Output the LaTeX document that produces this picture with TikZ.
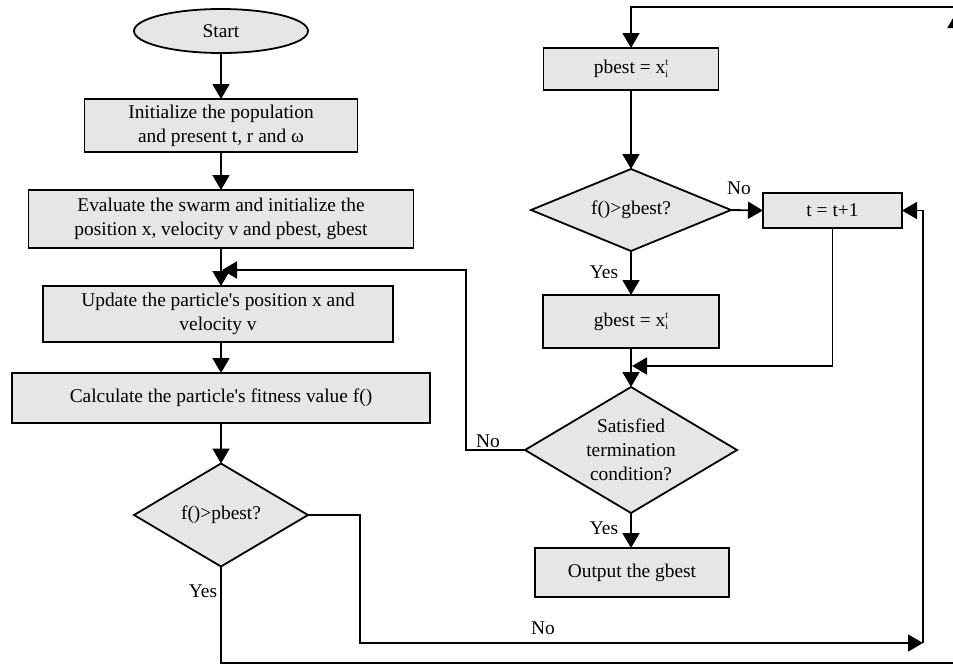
\documentclass[tikz,border=0pt]{standalone}
\usepackage{fontspec}
\setmainfont{Liberation Serif}[Ligatures=TeXOff]
\usetikzlibrary{shapes.geometric,arrows.meta}
\definecolor{boxgray}{RGB}{230,230,230}
\newcommand{\xit}{x\rlap{\raisebox{-1.6pt}{\fontsize{5}{5}\selectfont i}}\raisebox{4.2pt}{\fontsize{5}{5}\selectfont t}}
\begin{document}
\begin{tikzpicture}[x=0.5pt,y=-0.5pt,
  font=\fontsize{9.7}{12}\selectfont,
  every node/.style={inner sep=0pt, outer sep=0pt},
  proc/.style={draw, line width=0.9pt, fill=boxgray, align=center},
  dec/.style={draw, diamond, line width=0.9pt, fill=boxgray, align=center},
  con/.style={line width=0.9pt},
  arr/.style={con, -{Triangle[length=7.5pt,width=8.5pt]}}
]
\useasboundingbox (0,0) rectangle (953,665);
\clip (0,0) rectangle (953,665);

% left column
\node[ellipse, draw, line width=0.9pt, fill=boxgray, minimum width=87pt, minimum height=22pt] (start) at (221,31) {Start};
\node[proc, minimum width=136.5pt, minimum height=26.5pt] (b1) at (221,125.5) {Initialize the population\\and present t, r and ω};
\node[proc, minimum width=192.5pt, minimum height=29pt] (b2) at (221,219) {Evaluate the swarm and initialize the\\position x, velocity v and pbest, gbest};
\node[proc, minimum width=175pt, minimum height=28pt] (b3) at (218,314) {Update the particle's position x and\\velocity v};
\node[proc, minimum width=209pt, minimum height=25pt] (b4) at (221,398) {Calculate the particle's fitness value f()};
\node[dec, aspect=1.69, minimum width=87pt, minimum height=51.5pt] (d1) at (221,515) {f()>pbest?};

% right column
\node[proc, minimum width=87.5pt, minimum height=21pt] (pb) at (631,69) {pbest = \xit};
\node[dec, aspect=2.44, minimum width=100pt, minimum height=41pt] (d2) at (631,210) {f()>gbest?};
\node[proc, minimum width=69.5pt, minimum height=17.5pt] (t) at (832.5,210.5) {t = t+1};
\node[proc, minimum width=88pt, minimum height=26.5pt] (gb) at (631,321.5) {gbest = \xit};
\node[dec, aspect=1.68, minimum width=106pt, minimum height=63pt] (d3) at (631,450) {Satisfied\\termination\\condition?};
\node[proc, minimum width=97pt, minimum height=24.5pt] (out) at (632,572.5) {Output the gbest};

% helper coordinates
\coordinate (J1) at (222,270);
\coordinate (J2) at (632,366);
\coordinate (n1) at (360,643);
\coordinate (c1) at (923,643);
\coordinate (yb) at (956,663);
\coordinate (ya) at (956,13);
\coordinate (yt) at (956,7);
\coordinate (w1) at (466,270);

% labels
\node (lno1) at (543,628) {No};
\node (lyes1) at (203,591) {Yes};
\node (lno2) at (739,188) {No};
\node (lyes2) at (604,272) {Yes};
\node (lno3) at (488,441) {No};
\node (lyes3) at (604,528) {Yes};

% connectors, left column
\draw[arr] (start.south) -- (start.south |- b1.north);
\draw[arr] (b1.south) -- (b1.south |- b2.north);
\draw[arr] (b2.south) -- (b2.south |- b3.north);
\draw[arr] (b3.south -| b4.north) -- (b4.north);
\draw[arr] (b4.south) -- (d1.north);
\draw[arr] (d1.east) -| (n1) -- (c1);
\draw[arr] (c1) |- (t.east);
\draw[con] (d1.south) |- (yb);
\draw[arr] (yb) -- (ya);
\draw[arr] (ya) -- (yt) -| (pb.north);

% connectors, right column
\draw[arr] (pb.south) -- (d2.north);
\draw[arr] (d2.east) -- (t.west);
\draw[arr] (d2.south) -- (gb.north);
\draw[arr] (t.south) |- (J2);
\draw[arr] (gb.south) -- (d3.north);
\draw[arr] (d3.west) -| (w1) -- (J1);
\draw[arr] (d3.south) -- (d3.south |- out.north);
\end{tikzpicture}
\end{document}
